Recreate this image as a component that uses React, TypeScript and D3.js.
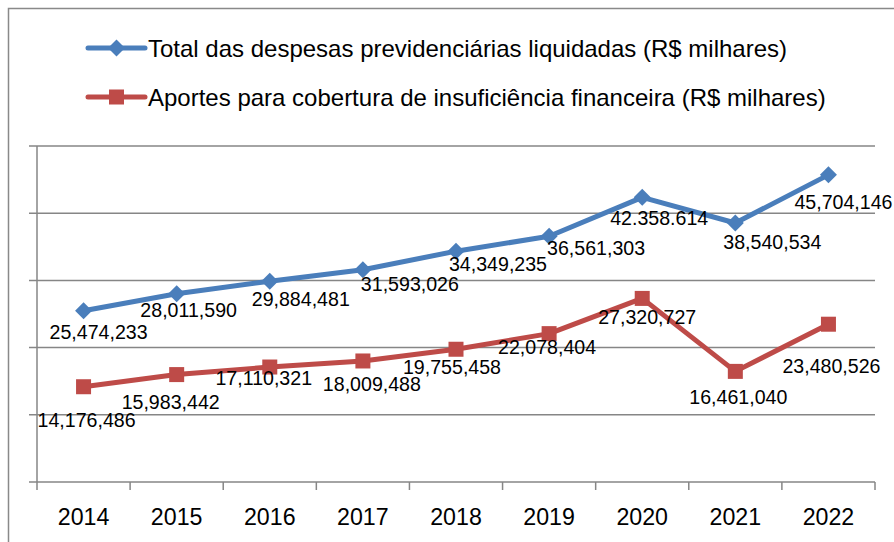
import React from "react";
import * as d3 from "d3";

const years = ["2014", "2015", "2016", "2017", "2018", "2019", "2020", "2021", "2022"];
const despesas = [25474233, 28011590, 29884481, 31593026, 34349235, 36561303, 42358614, 38540534, 45704146];
const aportes = [14176486, 15983442, 17110321, 18009488, 19755458, 22078404, 27320727, 16461040, 23480526];
const despesasLabels = ["25,474,233", "28,011,590", "29,884,481", "31,593,026", "34,349,235", "36,561,303", "42.358.614", "38,540,534", "45,704,146"];
const aportesLabels = ["14,176,486", "15,983,442", "17,110,321", "18,009,488", "19,755,458", "22,078,404", "27,320,727", "16,461,040", "23,480,526"];
const yTicks = [0, 10000000, 20000000, 30000000, 40000000, 50000000];
const legendNames = [
  "Total das despesas previdenciárias liquidadas (R$ milhares)",
  "Aportes para cobertura de insuficiência financeira (R$ milhares)",
];

// label offsets (styling): [dx, dy] relative to point
const despesasOffsets = [[15, 28], [12, 23], [31, 25], [47, 21.5], [42, 20], [47, 18.5], [17, 28], [37, 25.5], [15, 34.5]];
const aportesOffsets = [[3, 40], [-6, 34], [-6, 18], [9, 30.5], [-4, 24.7], [-2, 20], [5, 26], [3, 32.6], [3, 48.6]];

const BLUE = "#4A7EBB";
const RED = "#BE4B48";
const GRID = "#868686";
const FONT = "'Liberation Sans', Arial, sans-serif";

export default function App() {
  const W = 894, H = 542;
  const left = 37, right = 875, top = 146, bottom = 482;
  const x = d3.scaleBand<string>().domain(years).range([left, right]).padding(0);
  const y = d3.scaleLinear().domain([0, 50000000]).range([bottom, top]);
  const cx = (i: number) => (x(years[i]) as number) + x.bandwidth() / 2;
  const line = d3.line<number>().x((_, i) => cx(i)).y((d) => y(d));
  const boundaries = years.map((yr) => x(yr) as number).concat([right]);

  const diamond = (px: number, py: number, r: number) =>
    `M${px},${py - r}L${px + r},${py}L${px},${py + r}L${px - r},${py}Z`;

  return (
    <svg width={W} height={H} style={{ position: "absolute", left: 0, top: 0, background: "#fff" }}>
      <rect x={8.5} y={8.5} width={1000} height={700} fill="#fff" stroke="#898989" strokeWidth={1.5} />
      {/* gridlines */}
      {yTicks.map((t) => (
        <line key={t} x1={29} x2={right} y1={y(t)} y2={y(t)} stroke={GRID} strokeWidth={1.5} />
      ))}
      <line x1={left} x2={left} y1={top} y2={bottom} stroke={GRID} strokeWidth={1.5} />
      {boundaries.map((b, i) => (
        <line key={i} x1={b} x2={b} y1={bottom} y2={bottom + 8} stroke={GRID} strokeWidth={1.5} />
      ))}
      {years.map((yr, i) => (
        <text key={yr} x={cx(i)} y={525} textAnchor="middle" fontFamily={FONT} fontSize={23.2} fill="#000">
          {yr}
        </text>
      ))}
      {/* lines */}
      <path d={line(despesas) || ""} fill="none" stroke={BLUE} strokeWidth={5} strokeLinejoin="round" />
      <path d={line(aportes) || ""} fill="none" stroke={RED} strokeWidth={5} strokeLinejoin="round" />
      {despesas.map((v, i) => (
        <path key={i} d={diamond(cx(i), y(v), 8.5)} fill={BLUE} />
      ))}
      {aportes.map((v, i) => (
        <rect key={i} x={cx(i) - 7.5} y={y(v) - 7.5} width={15} height={15} fill={RED} />
      ))}
      {despesas.map((v, i) => (
        <text key={i} x={cx(i) + despesasOffsets[i][0]} y={y(v) + despesasOffsets[i][1]} textAnchor="middle"
          fontFamily={FONT} fontSize={19.6} fill="#000">
          {despesasLabels[i]}
        </text>
      ))}
      {aportes.map((v, i) => (
        <text key={i} x={cx(i) + aportesOffsets[i][0]} y={y(v) + aportesOffsets[i][1]} textAnchor="middle"
          fontFamily={FONT} fontSize={19.6} fill="#000">
          {aportesLabels[i]}
        </text>
      ))}
      {/* legend */}
      {legendNames.map((name, k) => {
        const ly = k === 0 ? 48 : 97;
        const color = k === 0 ? BLUE : RED;
        return (
          <g key={name}>
            <line x1={88} x2={145} y1={ly} y2={ly} stroke={color} strokeWidth={5} strokeLinecap="round" />
            {k === 0 ? (
              <path d={diamond(116.5, ly, 8.5)} fill={color} />
            ) : (
              <rect x={109} y={ly - 7.5} width={15} height={15} fill={color} />
            )}
            <text x={148} y={ly + 8.5} fontFamily={FONT} fontSize={24} fill="#000">
              {name}
            </text>
          </g>
        );
      })}
    </svg>
  );
}
